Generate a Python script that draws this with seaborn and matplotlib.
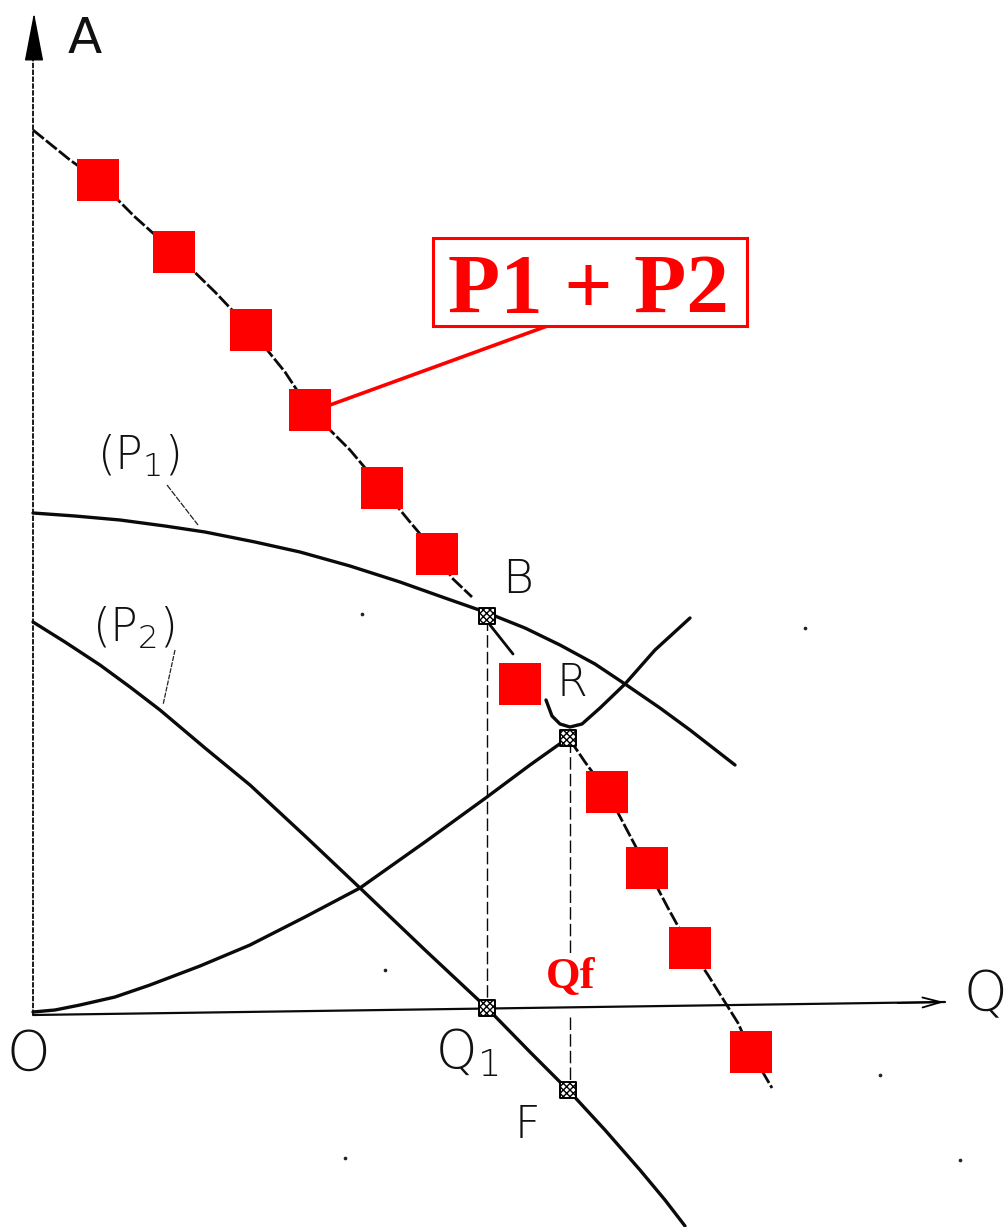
"""Pump curves in parallel: P1, P2, their sum and the system curve."""

import matplotlib.pyplot as plt
from matplotlib.patches import Rectangle
import pandas as pd
import seaborn as sns

# values are read in picture pixels, the axes below map them 1:1
COMBINED_X = [33, 70, 98, 135, 174, 215, 251, 285, 310, 350, 382, 410, 437, 452, 472]
COMBINED_Y = [130, 160, 180, 217, 252, 292, 330, 372, 410, 450, 488, 522, 554, 578, 597]
COMBINED_MID_X = [490, 513]
COMBINED_MID_Y = [625, 654]
COMBINED_LOW_X = [570, 585, 607, 627, 647, 668, 690, 708, 738, 751, 772]
COMBINED_LOW_Y = [740, 762, 792, 830, 868, 908, 948, 975, 1023, 1052, 1088]
P1_X = [33, 75, 120, 165, 205, 255, 300, 350, 400, 445, 485, 525, 560, 595, 625, 660, 690, 735]
P1_Y = [513, 516, 520, 526, 532, 542, 552, 566, 582, 598, 612, 628, 645, 664, 684, 708, 730, 765]
P2_X = [33, 65, 100, 130, 160, 205, 250, 305, 360, 425, 487, 530, 570, 605, 640, 665, 685]
P2_Y = [622, 642, 665, 687, 710, 748, 785, 836, 888, 950, 1008, 1052, 1092, 1130, 1170, 1200, 1226]
SYSTEM_LOW_X = [33, 55, 80, 115, 150, 200, 250, 305, 360, 425, 487, 530, 568]
SYSTEM_LOW_Y = [1012, 1010, 1005, 997, 985, 966, 945, 917, 888, 842, 797, 765, 738]
SYSTEM_UP_X = [546, 552, 560, 570, 582, 600, 625, 655, 690]
SYSTEM_UP_Y = [700, 716, 724, 727, 724, 708, 684, 650, 618]
SQUARE_X = [98, 174, 251, 310, 382, 437, 520, 607, 647, 690, 751]
SQUARE_Y = [180, 252, 330, 410, 488, 554, 684, 792, 868, 948, 1052]
NODE_X = [487, 568, 487, 568]
NODE_Y = [616, 738, 1008, 1090]
SPECK_X = [805, 362, 385, 345, 880, 960]
SPECK_Y = [628, 614, 970, 1158, 1075, 1160]

LABELS = [
    ("O", 28, 1055, 40), ("Q", 985, 995, 40),
    ("Q$_1$", 467, 1054, 38), ("F", 527, 1125, 32),
    ("B", 518, 580, 34), ("R", 572, 684, 32),
    ("(P$_1$)", 138, 456, 33), ("(P$_2$)", 133, 628, 33),
]

sns.set_theme(style="white")
plt.rcParams["font.family"] = ["Liberation Sans", "DejaVu Sans"]
plt.rcParams["mathtext.default"] = "regular"

fig = plt.figure(figsize=(10.06, 12.27), dpi=100)
ax = fig.add_axes([0, 0, 1, 1])
ax.set_xlim(0, 1006)
ax.set_ylim(1227, 0)
ax.axis("off")

for xs, ys, width, dash in [
    (P1_X, P1_Y, 2.4, (None, None)),
    (P2_X, P2_Y, 2.4, (None, None)),
    (SYSTEM_LOW_X, SYSTEM_LOW_Y, 2.4, (None, None)),
    (SYSTEM_UP_X, SYSTEM_UP_Y, 2.4, (None, None)),
    (COMBINED_X, COMBINED_Y, 2.0, (5, 1)),
    (COMBINED_MID_X, COMBINED_MID_Y, 2.0, (None, None)),
    (COMBINED_LOW_X, COMBINED_LOW_Y, 2.0, (5, 1)),
    ([33, 33], [1015, 60], 1.3, (3, 0.8)),
    ([33, 945], [1015, 1002], 1.6, (None, None)),
    ([487, 487], [618, 1015], 1.0, (9, 3)),
    ([570, 570], [740, 955], 1.0, (9, 3)),
    ([570, 570], [1017, 1092], 1.0, (9, 3)),
]:
    line = pd.DataFrame({"x": xs, "y": ys})
    sns.lineplot(data=line, x="x", y="y", color="#0a0a0a", linewidth=width,
                 sort=False, estimator=None, ax=ax, dashes=dash)

nodes = pd.DataFrame({"x": NODE_X, "y": NODE_Y})
sns.scatterplot(data=nodes, x="x", y="y", marker="s", s=130, facecolor="white",
                edgecolor="black", linewidth=1.4, hatch="xxxxx", ax=ax, zorder=3)
specks = pd.DataFrame({"x": SPECK_X, "y": SPECK_Y})
sns.scatterplot(data=specks, x="x", y="y", marker="o", s=7, color="#222222",
                linewidth=0, ax=ax)
squares = pd.DataFrame({"x": SQUARE_X, "y": SQUARE_Y})
sns.scatterplot(data=squares, x="x", y="y", marker="s", s=900, color="#ff0000",
                linewidth=0, ax=ax, zorder=4)

# arrow heads of the two axes
ax.annotate("", xy=(34, 10), xytext=(34, 62),
            arrowprops=dict(arrowstyle="-|>,head_width=0.5,head_length=2.6", color="black", lw=1))
ax.annotate("", xy=(947, 1002), xytext=(895, 1003),
            arrowprops=dict(arrowstyle="->,head_width=0.3,head_length=1.1", color="black", lw=1.3))

# leader lines next to the P1 and P2 labels
ax.plot([167, 198], [485, 525], color="#222222", lw=0.9, ls=(0, (5, 1)))
ax.plot([175, 163], [650, 705], color="#222222", lw=0.9, ls=(0, (4, 1)))

ax.text(85, 39, "A", fontsize=36, color="#111111", ha="center", va="center",
        family="DejaVu Sans")
for text, x, y, size in LABELS:
    ax.text(x, y, text, fontsize=size, color="#111111", ha="center", va="center",
            family="DejaVu Sans", fontweight="light")

ax.plot([550, 330], [325, 405], color="#ff0000", lw=2.6, zorder=3)
ax.add_patch(Rectangle((433, 238), 314, 88, facecolor="white", edgecolor="#ff0000",
                       linewidth=2.2, zorder=3))
ax.text(588, 313, "P1 + P2", fontsize=61.5, color="#ff0000", fontweight="bold",
        family="Liberation Serif", ha="center", va="baseline", zorder=4)
ax.text(571, 977, "Qf", fontsize=32, color="#ff0000", fontweight="bold",
        family="Liberation Serif", ha="center", va="center", zorder=4)

fig.savefig("out.png", dpi=100)
